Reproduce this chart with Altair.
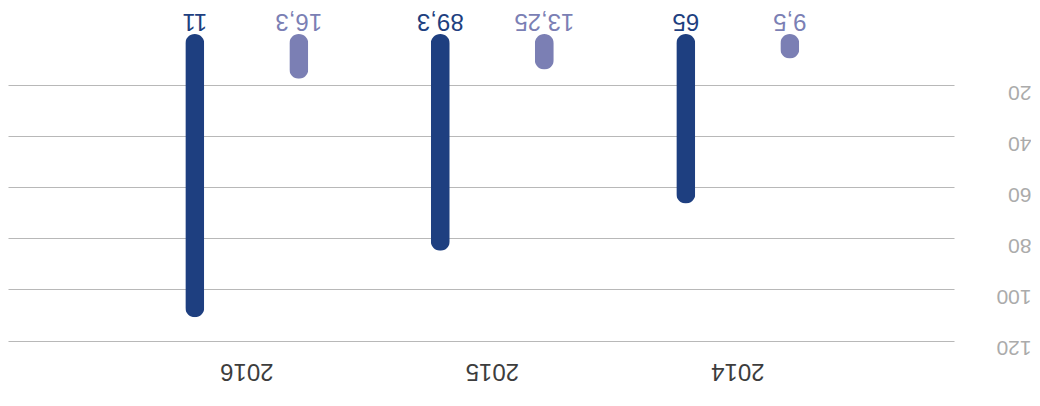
import altair as alt
import pandas as pd

years = ["2014", "2015", "2016"]
series = ["Serie 1", "Serie 2"]
values_s1 = [66.4, 84.9, 110.9]
values_s2 = [9.6, 13.9, 17.5]
labels_s1 = ["65", "89,3", "11"]
labels_s2 = ["9,5", "13,25", "16,3"]
colors = ["#1e3f80", "#7b7fb4"]
y_ticks = [20, 40, 60, 80, 100, 120]

rows = []
for i, y in enumerate(years):
    rows.append({"year": y, "series": series[0], "value": values_s1[i], "label": labels_s1[i]})
    rows.append({"year": y, "series": series[1], "value": values_s2[i], "label": labels_s2[i]})
df = pd.DataFrame(rows)

FONT = "Liberation Sans"

x_enc = alt.X(
    "year:N",
    sort=["2016", "2015", "2014"],
    scale=alt.Scale(paddingInner=0, paddingOuter=0.4267, align=0.554),
    axis=alt.Axis(
        orient="bottom", title=None, labelAngle=180, labelAlign="center",
        labelBaseline="middle", labelPadding=30, ticks=False, domain=False,
        grid=False, labelFontSize=24, labelColor="#3d3d3d", labelFont=FONT,
    ),
)
xo_enc = alt.XOffset(
    "series:N", sort=series,
    scale=alt.Scale(paddingInner=0, paddingOuter=0.18),
)
color_enc = alt.Color(
    "series:N", scale=alt.Scale(domain=series, range=colors), legend=None
)

bars = alt.Chart(df).mark_bar(width=19, cornerRadius=9.5).encode(
    x=x_enc,
    xOffset=xo_enc,
    y=alt.Y(
        "value:Q",
        scale=alt.Scale(domain=[0, 120], reverse=True, nice=False, zero=True),
        axis=alt.Axis(
            orient="right", title=None, values=y_ticks, labelAngle=180,
            labelAlign="left", labelBaseline="alphabetic", labelPadding=77,
            ticks=False, domain=False, grid=True, gridColor="#b8b8b8",
            gridWidth=1.2, labelFontSize=21, labelColor="#ababab",
            labelFont=FONT, labelOverlap=False,
        ),
    ),
    color=color_enc,
)

texts = alt.Chart(df).mark_text(
    angle=180, align="center", baseline="middle", dy=13.5,
    fontSize=24, font=FONT,
).encode(
    x=x_enc,
    xOffset=xo_enc,
    y=alt.datum(0),
    text="label:N",
    color=color_enc,
)

chart = alt.layer(bars, texts).properties(
    width=946, height=306.5,
    padding={"left": 0, "top": 0, "right": 0, "bottom": 12},
).configure_view(stroke=None)

chart.save("out.html", embed_options={"renderer": "svg", "actions": False})
